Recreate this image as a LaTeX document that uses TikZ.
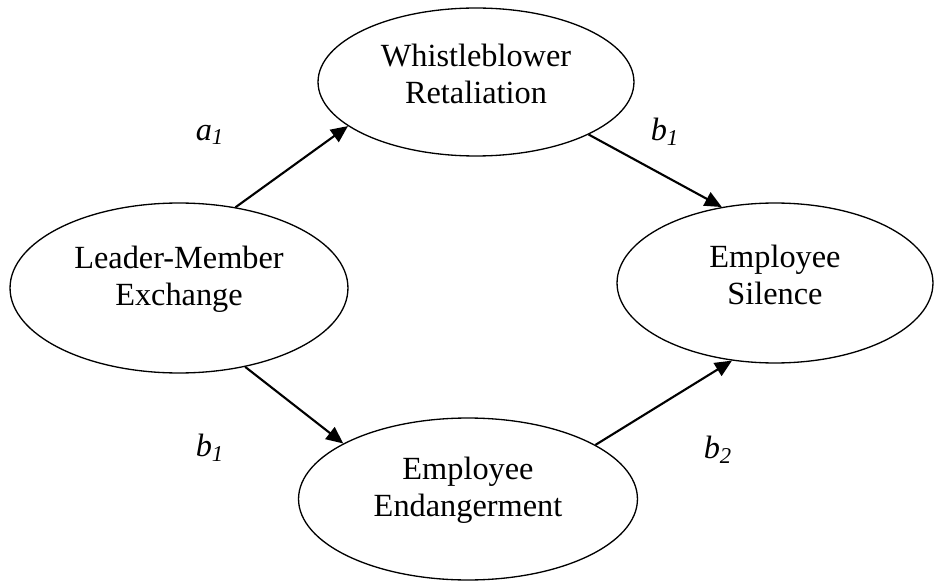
\documentclass[tikz,border=0pt]{standalone}
\usepackage{fontspec}
\setmainfont{Liberation Serif}
\usetikzlibrary{shapes.geometric, arrows.meta}

\begin{document}
\begin{tikzpicture}[
    x=0.02cm,
    y=-0.02cm,
    construct/.style={ellipse, draw, line width=0.75pt},
    constructtext/.style={align=center, font=\fontsize{18.4}{21}\selectfont},
    effect/.style={-{Triangle[length=0.34cm, width=0.3cm]}, line width=1.2pt},
    coeff/.style={font=\fontsize{18.4}{21}\selectfont\itshape}
]

% =========================================================
% AREA
% =========================================================

\useasboundingbox (0,0) rectangle (934,581);

\def\textlift{0.17cm}

% =========================================================
% COSTRUTTI
% =========================================================

\node[construct, minimum width=6.76cm, minimum height=3.4cm]
(lmx) at (179,288) {};
\node[constructtext] (lmxtext) at ([yshift=\textlift]lmx.center)
{Leader-Member\\Exchange};

\node[construct, minimum width=6.32cm, minimum height=2.96cm]
(wr) at (476,82) {};
\node[constructtext] (wrtext) at ([yshift=\textlift]wr.center)
{Whistleblower\\Retaliation};

\node[construct, minimum width=6.78cm, minimum height=3.24cm]
(ee) at (468,499) {};
\node[constructtext] (eetext) at ([yshift=\textlift]ee.center)
{Employee\\Endangerment};

\node[construct, minimum width=6.32cm, minimum height=3.2cm]
(es) at (775,283) {};
\node[constructtext] (estext) at ([yshift=\textlift]es.center)
{Employee\\Silence};

% =========================================================
% EFFETTI
% =========================================================

% LMX -> ritorsione -> silenzio
\draw[effect] (lmx.55) -- (wr.199);
\draw[effect] (wr.335) -- (es.125);

% LMX -> pericolo -> silenzio
\draw[effect] (lmx.310) -- (ee.156);
\draw[effect] (ee.23) -- (es.241);

% Coefficienti
\node[coeff] (a1) at (210,135) {a\textsubscript{1}};
\node[coeff] (b1up) at (665,132) {b\textsubscript{1}};
\node[coeff] (b1low) at (210,448) {b\textsubscript{1}};
\node[coeff] (b2) at (718,450) {b\textsubscript{2}};

\end{tikzpicture}
\end{document}
